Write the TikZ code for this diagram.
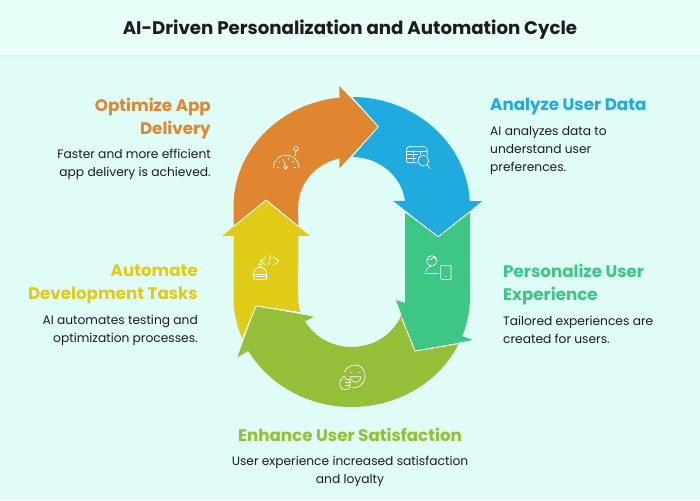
\documentclass[tikz,border=0pt]{standalone}
\usepackage{fontspec}
\setmainfont{Poppins}
\definecolor{pagebg}{HTML}{DFFCF7}
\definecolor{titlebg}{HTML}{E8FEF9}
\definecolor{titleedge}{HTML}{DCF6F1}
\definecolor{inktext}{HTML}{1C1C1C}
\definecolor{orangearrow}{HTML}{E08631}
\definecolor{bluearrow}{HTML}{1FABDD}
\definecolor{greenarrow}{HTML}{3EC685}
\definecolor{olivearrow}{HTML}{95BE39}
\definecolor{yellowarrow}{HTML}{E0CC17}
\begin{document}
\begin{tikzpicture}[x=1pt, y=1pt]
        \tikzstyle{heading}=[inner sep=0pt, align=left, font=\fontsize{16.7}{23}\selectfont\bfseries]
        \tikzstyle{blurb}=[inner sep=0pt, align=left, text=inktext, font=\fontsize{12.25}{18}\selectfont]
        \tikzstyle{seam}=[white, line width=0.9pt, line join=round]
        \tikzstyle{icon}=[white, line width=0.7pt, line cap=round, line join=round]
        \useasboundingbox (0, 0) rectangle (700, 500);

        % Background
        \fill [pagebg] (0, 0) rectangle (700, 500);
        \fill [titleedge] (0, 442) rectangle (700, 445);
        \fill [titlebg] (0, 445) rectangle (700, 500);
        \node at (350, 470) [inner sep=0pt, text=inktext, font=\fontsize{18.2}{22}\selectfont\bfseries] (title) {AI-Driven Personalization and Automation Cycle};

        % Arrows
        \fill [orangearrow] (233.5, 273.4) -- (233.5, 293) arc[start angle=180, end angle=96, x radius=118.4pt, y radius=110pt]
            -- (339.3, 414) -- (378.3, 373.3) -- (339.3, 331.7) -- (339.3, 341.6)
            arc[start angle=103.3, end angle=180, x radius=53.4pt, y radius=50pt] -- (298.3, 273.6) -- (266, 300) -- cycle;
        \fill [bluearrow] (351.6, 403) arc[start angle=90, end angle=3, x radius=118.4pt, y radius=110pt]
            -- (482.3, 299) -- (438.3, 263.3) -- (393.3, 299) -- (405, 299)
            arc[start angle=6.9, end angle=90, x radius=53.4pt, y radius=50pt] -- (378.3, 373.3) -- cycle;
        \fill [greenarrow] (405, 288.3) -- (438.3, 263.3) -- (470, 288.3) -- (470, 203)
            arc[start angle=0, end angle=-20.8, x radius=118.4pt, y radius=110pt]
            -- (472.7, 160) -- (415, 149) -- (396, 200) -- (405, 197) -- cycle;
        \fill [olivearrow] (415, 149) -- (459.3, 157.4) arc[start angle=-24.5, end angle=-150.7, x radius=118.4pt, y radius=110pt]
            -- (237.3, 142.7) -- (256, 194) -- (314, 183.3) -- (305, 178.6)
            arc[start angle=-150.8, end angle=-20, x radius=53.4pt, y radius=50pt] -- cycle;
        \fill [yellowarrow] (298.3, 264) -- (310, 264) -- (266, 300) -- (222, 264) -- (233.5, 264) -- (233.5, 203)
            arc[start angle=180, end angle=202.6, x radius=118.4pt, y radius=110pt]
            -- (256, 194) -- (300.7, 187.3) arc[start angle=197.6, end angle=180, x radius=53.4pt, y radius=50pt] -- cycle;

        % Seams
        \draw [seam] (351.6, 403) -- (378.3, 373.3) -- (351.6, 343);
        \draw [seam] (405, 288.3) -- (438.3, 263.3) -- (470, 288.3);
        \draw [seam] (401.7, 182) -- (415, 149) -- (459.3, 156.5);
        \draw [seam] (242.3, 160.7) -- (256, 194) -- (300.7, 187.3);
        \draw [seam] (233.5, 273.4) -- (266, 300) -- (298.3, 273.6);

        % Icons, in page pixels
        \begin{scope}[y=-1pt, shift={(0, -500)}]
            % gauge
            \draw [icon] (273.5, 167.5) .. controls (274, 151) and (298, 151) .. (299, 167.5);
            \draw [icon] (283, 159.5) -- (285.2, 165.4);
            \draw [icon] (285.6, 167.3) circle [radius=1.8pt];
            \draw [icon] (296, 148.6) circle [radius=2.2pt];
            \draw [icon] (296, 150.8) -- (295, 156);
            \draw [icon] (277, 167.5) -- (278.5, 167.5);
            \draw [icon] (278.5, 161.5) -- (279.5, 162.3);
            \draw [icon] (293.5, 161.5) -- (292.5, 162.3);
            \draw [icon] (294, 167.5) -- (295.5, 167.5);
            \draw [icon] (288.5, 158) -- (288.5, 159.2);
            % table and lens
            \draw [icon] (417, 162.8) -- (408, 162.8) -- (406.4, 161.5) -- (406.4, 149) -- (408.5, 146.8) -- (425, 146.8) -- (427.2, 149) -- (427.2, 155);
            \draw [icon] (406.4, 151) -- (427.2, 151);
            \draw [icon] (406.4, 154.5) -- (418, 154.5);
            \draw [icon] (406.4, 158.6) -- (416, 158.6);
            \draw [icon] (413.4, 151) -- (413.4, 162.8);
            \draw [icon] (420.6, 151) -- (420.6, 154.5);
            \draw [icon] (423.3, 160.6) circle [radius=5.4pt];
            \draw [icon] (427.2, 164.6) -- (430.4, 168.8);
            % person and phone
            \draw [icon] (431.8, 260.8) circle [radius=5.2pt];
            \draw [icon] (427, 259.6) .. controls (430, 260.4) and (433, 258.6) .. (434, 257);
            \draw [icon] (434, 257) .. controls (434.8, 258.6) and (435.5, 259.4) .. (436.8, 259.8);
            \draw [icon] (425.2, 273.4) .. controls (425.6, 269) and (428.4, 267) .. (431, 266);
            \draw [icon] (425.2, 273.4) -- (438.6, 273.4);
            \draw [icon, rounded corners=1pt] (440.6, 265.4) rectangle (451, 279.6);
            \fill [white] (445.8, 276.4) circle [radius=0.6pt];
            % smiley and thumb
            \draw [icon] (344.4, 372) .. controls (349, 362) and (365.3, 362) .. (365, 376.6) .. controls (365, 384) and (357, 389.5) .. (351.5, 387.6);
            \draw [icon] (350.4, 372.6) -- (351.8, 372.6);
            \draw [icon] (358.6, 372.6) -- (360, 372.6);
            \draw [icon] (350, 376.8) -- (360.8, 376.8) .. controls (360.6, 384.2) and (351, 384.2) .. (350, 376.8);
            \draw [icon] (340.4, 380) .. controls (339.4, 384) and (339.6, 389) .. (344, 389.4) -- (348, 389.4) .. controls (350.6, 388.4) and (350.6, 381) .. (349, 379.6) -- (345.6, 379.6) -- (345.6, 377.8) .. controls (344.8, 375.6) and (342.6, 375.6) .. (342.6, 377.6) -- (342.6, 379) -- cycle;
            \draw [icon] (345.4, 382.4) -- (350.2, 382.4);
            \draw [icon] (345.4, 385.6) -- (350, 385.6);
            % robot and code
            \draw [icon] (265.8, 256.8) -- (260.4, 261) -- (265.8, 265);
            \draw [icon] (270.8, 255) -- (268.4, 265.2);
            \draw [icon] (273.4, 256.8) -- (279, 261) -- (273.4, 265);
            \draw [icon] (260, 265.2) circle [radius=1.9pt];
            \draw [icon] (253.4, 274.4) .. controls (253.4, 265) and (266.8, 265) .. (266.8, 274.4) -- cycle;
            \draw [icon, rounded corners=1pt] (253.4, 274.4) rectangle (266.8, 279.4);
            \draw [icon] (253.4, 276.8) -- (266.8, 276.8);
            \draw [icon] (257.6, 271.4) -- (258, 271.4);
            \draw [icon] (262.4, 271.4) -- (262.8, 271.4);
        \end{scope}

        % Labels
        \node at (211, 381.5) [heading, anchor=east, align=right, text=orangearrow] (optimize_head) {Optimize App\\Delivery};
        \node at (211, 336) [blurb, anchor=east, align=right] (optimize_text) {Faster and more efficient\\app delivery is achieved.};

        \node at (490, 393) [heading, anchor=west, text=bluearrow] (analyze_head) {Analyze User Data};
        \node at (490, 349.5) [blurb, anchor=west] (analyze_text) {AI analyzes data to\\understand user\\preferences.};

        \node at (503, 215.5) [heading, anchor=west, text=greenarrow] (personalize_head) {Personalize User\\Experience};
        \node at (503, 170) [blurb, anchor=west] (personalize_text) {Tailored experiences are\\created for users.};

        \node at (198, 215.5) [heading, anchor=east, align=right, text=yellowarrow] (automate_head) {Automate\\Development Tasks};
        \node at (198, 170) [blurb, anchor=east, align=right] (automate_text) {AI automates testing and\\optimization processes.};

        \node at (350, 65) [heading, align=center, text=olivearrow] (enhance_head) {Enhance User Satisfaction};
        \node at (350, 29) [blurb, align=center] (enhance_text) {User experience increased satisfaction\\and loyalty};
\end{tikzpicture}
\end{document}
